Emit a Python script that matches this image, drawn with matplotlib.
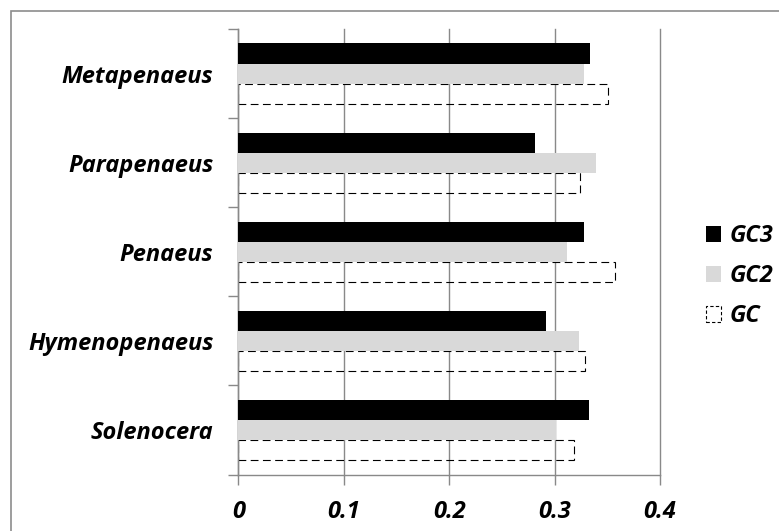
import matplotlib.pyplot as plt
from matplotlib.patches import Rectangle, Patch
import numpy as np

genera = ["Metapenaeus", "Parapenaeus", "Penaeus", "Hymenopenaeus", "Solenocera"]
gc3 = [0.334, 0.281, 0.328, 0.292, 0.333]
gc2 = [0.328, 0.339, 0.312, 0.323, 0.301]
gc = [0.351, 0.324, 0.357, 0.329, 0.318]
xticks = [0, 0.1, 0.2, 0.3, 0.4]

plt.rcParams['font.family'] = ['Open Sans', 'DejaVu Sans']
font = dict(fontsize=17, fontweight='bold', fontstyle='italic')
grid_col = '#898989'

fig = plt.figure(figsize=(7.79, 5.31), dpi=100)
# outer chart frame (cut off at right and bottom)
fig.patches.append(Rectangle((11 / 779, -0.1), 1.2, 1 - 11 / 531 + 0.1,
                             transform=fig.transFigure, fill=False,
                             edgecolor='#8c8c8c', lw=1.2))

ax = fig.add_axes([238.3 / 779, 1 - 474.5 / 531, (660 - 238.3) / 779, (474.5 - 29) / 531])

n = len(genera)
centers = n - 0.5 - np.arange(n)   # first genus at top
h = 0.225

ax.barh(centers - h, gc, height=h, fill=False, edgecolor='black',
        lw=0.8, linestyle=(0, (7, 4)), zorder=2)
ax.barh(centers, gc2, height=h, color='#d9d9d9', zorder=3)
ax.barh(centers + h, gc3, height=h, color='black', zorder=3)

ax.set_xlim(0, 0.4)
ax.set_ylim(0, n)
ax.set_xticks(xticks)
ax.set_xticklabels([f"{t:g}" for t in xticks], **font)
ax.xaxis.grid(True, color=grid_col, lw=1)
for gl in ax.get_xgridlines():
    gl.set_clip_on(False)
ax.set_axisbelow(True)

ax.set_yticks(np.arange(n + 1))
ax.set_yticklabels([])
ax.set_yticks(centers, minor=True)
ax.set_yticklabels(genera, minor=True, **font)
ax.tick_params(axis='y', which='major', length=7.5, color=grid_col, width=1)
ax.tick_params(axis='y', which='minor', length=0, pad=18)
ax.tick_params(axis='x', length=7, color=grid_col, width=1, pad=11)

for s in ['top', 'right']:
    ax.spines[s].set_visible(False)
for s in ['left', 'bottom']:
    ax.spines[s].set_color(grid_col)
    ax.spines[s].set_linewidth(1)

handles = [Patch(facecolor='black', label='GC3'),
           Patch(facecolor='#d9d9d9', label='GC2'),
           Patch(facecolor='none', edgecolor='black', lw=0.8,
                 linestyle=(0, (3, 2)), label='GC')]
fig.legend(handles=handles, loc='center left', bbox_to_anchor=(706 / 779, 1 - 276 / 531),
           frameon=False, prop=dict(size=17, weight='bold', style='italic'),
           handlelength=0.65, handleheight=0.65, handletextpad=0.35, labelspacing=0.68,
           borderaxespad=0, borderpad=0)

fig.savefig('out.png', dpi=100)
